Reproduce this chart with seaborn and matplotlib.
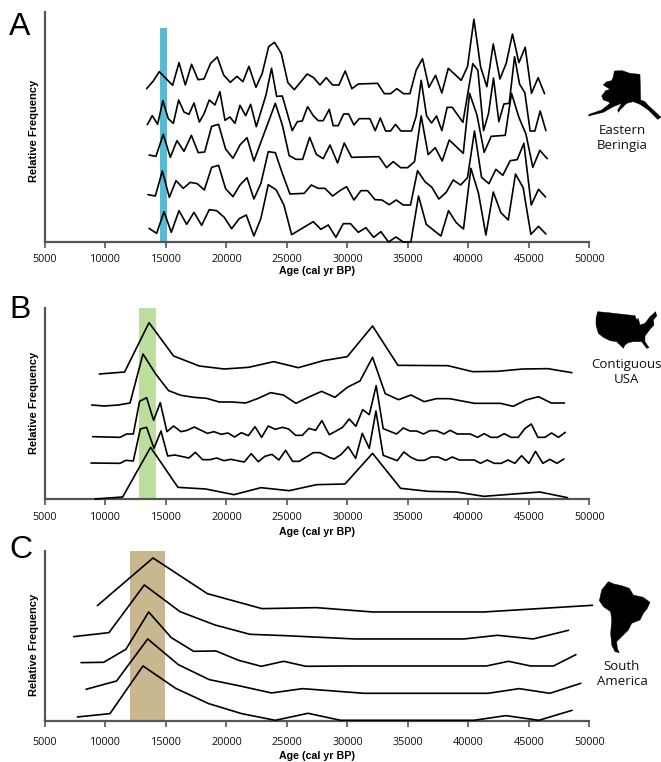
import numpy as np
import pandas as pd
import matplotlib
matplotlib.use('Agg')
import matplotlib.pyplot as plt
import seaborn as sns

# Eastern Beringia
a1_age = [13400,13950,14450,15550,16080,16600,17120,17650,18140,18690,19240,19770,20320,20870,21360,21860,22440,22960,23490,23980,24530,25080,25610,26680,27210,27730,28250,28780,29300,29820,30370,30900,32500,33050,33570,34090,34640,35170,35690,36210,36740,37290,37810,38340,39410,39930,40460,41010,41530,42060,42610,43130,43650,44180,44700,45220,45770,46300]
a1_freq = [460,483,511,470,538,471,533,487,489,536,555,501,479,497,481,527,464,506,586,599,566,478,457,504,493,471,493,471,471,513,460,474,476,445,445,460,445,445,516,550,464,500,447,521,485,526,668,526,466,594,489,536,624,538,584,446,493,445]
a2_age = [13460,13870,14310,14750,15190,15610,16050,16490,16900,17320,17760,18140,18580,19050,19460,19880,20290,20700,21120,21590,22000,22470,23270,23730,24150,24620,25440,25860,26270,26710,27180,27590,28000,28500,28830,29240,29690,30100,30540,30980,31860,32300,32720,33160,33570,33980,34420,35300,35690,36100,36550,36960,37370,37810,38250,38670,39550,39960,40370,40790,41260,41670,42080,42520,42940,43380,43820,44230,44670,45110,45500,45940,46410]
a2_freq = [352,379,353,424,370,356,426,390,383,417,360,384,426,411,451,365,375,356,410,379,413,346,441,521,437,438,334,361,363,406,379,364,364,398,349,349,384,384,351,370,370,334,372,333,333,353,333,333,378,485,378,357,378,334,404,404,359,447,535,515,334,386,492,361,414,416,556,474,448,333,333,393,334]
a3_age = [13600,14170,14780,15360,15910,16490,17100,17670,18200,18780,19350,19930,20540,21120,21700,22270,24040,24620,25190,25750,26300,26880,27430,28000,28560,29190,29740,30350,32610,33240,33790,34400,34980,35550,36100,36680,37260,37840,38420,39580,40100,40710,41310,41890,43050,43570,44180,44760,45330,45910,46520]
a3_freq = [261,257,323,254,304,272,320,268,270,347,353,279,251,291,313,243,416,351,259,248,248,314,263,250,291,237,297,254,256,223,241,223,223,241,378,262,283,243,306,266,446,381,269,317,320,446,374,324,224,275,250]
a4_age = [13510,14120,14700,15280,15830,16430,17010,17590,18170,18780,19350,19930,20540,21120,21700,22270,22850,23460,24040,24620,25250,26430,27010,27590,28140,28780,29380,29930,30540,31120,31670,32280,32850,33460,34040,34620,35220,35800,36410,36990,37560,38170,38750,39360,39930,40510,41090,41700,42280,42850,43460,44040,44590,45200,45800,46380]
a4_freq = [142,138,213,134,184,161,179,175,156,224,230,160,136,171,193,129,176,271,268,206,144,146,171,161,161,138,154,166,126,154,154,127,126,112,126,111,111,214,181,164,129,149,186,171,193,333,194,175,218,200,244,247,296,111,158,135]
a5_age = [13600,14230,14840,15440,16080,16710,17320,17950,18580,19190,19820,20430,21060,21640,22270,22850,23460,24120,24750,25390,27180,27810,28420,29050,29660,30260,30900,31530,32170,32770,33400,34010,34620,35250,35880,36520,37730,38360,39000,39600,40210,40840,41450,42060,42690,43300,43900,44530,45170,45800,46410]
a5_freq = [41,26,91,29,94,53,89,50,97,94,74,40,70,81,18,71,172,156,111,22,61,38,51,14,55,55,29,43,14,31,0,15,0,0,138,53,18,94,58,39,221,146,21,150,88,66,204,163,23,47,24]

# Contiguous USA
b1_age = [9490,11580,13600,15630,17760,19820,21830,23900,25940,28000,29990,32080,34180,38310,40350,42410,44480,46570,48560]
b1_freq = [375,381,529,429,399,390,395,412,394,415,427,519,401,400,382,383,390,391,379]
b2_age = [8860,9900,11060,12030,13100,14170,15220,16240,17320,18360,19410,20480,21590,22630,23650,24700,25750,26820,27870,28970,29990,31040,32080,33130,34230,35250,36350,37370,38450,40510,42660,43710,44760,45800,46850,47950]
b2_freq = [282,279,282,288,435,374,325,311,305,302,291,291,288,302,319,312,287,306,323,305,335,354,425,316,298,312,292,301,301,287,287,278,297,307,288,288]
b3_age = [8940,11200,11750,12300,12820,13400,13980,14530,15080,15630,16240,16760,17340,18420,18970,19570,20130,20680,21230,21810,22360,22910,23460,24040,24620,25140,25720,26270,26820,27370,27890,28500,28970,29600,30150,30700,31260,31810,32380,32960,34070,34620,35170,35720,36300,36820,37370,37980,38500,39080,40150,40760,41310,41860,42410,42960,43540,44120,44670,45200,45750,46330,46880,47460,48010]
b3_freq = [187,185,195,195,293,304,236,289,202,219,202,206,216,197,202,194,198,186,199,190,217,185,219,209,215,210,191,191,212,206,235,193,202,215,240,218,268,253,340,211,195,213,204,204,195,205,205,195,206,195,195,185,196,185,185,196,185,185,211,225,185,185,198,185,200]
b4_age = [8800,11200,11690,12300,12880,13400,14010,14590,15140,15740,16900,17430,18030,18640,19190,19800,20350,21470,22050,22630,23180,23760,24340,24890,25470,26020,27180,27730,28560,28910,29490,30070,30680,31230,31810,32360,32960,34120,34670,35250,35800,36380,36930,37510,38120,38670,39250,40490,41010,41560,42140,42720,43270,43850,44400,45000,45550,46160,46740,47320,47900]
b4_freq = [108,107,116,114,210,215,152,204,129,132,123,140,118,118,123,115,119,111,136,112,128,134,117,146,113,113,139,139,124,120,134,157,122,197,152,264,131,115,141,125,116,116,126,126,116,126,117,117,107,117,107,107,117,107,130,107,143,107,119,107,120]
b5_age = [9130,11420,13730,15990,18280,20620,22850,25190,27450,29800,32080,34400,36680,39020,41280,45910,48200]
b5_freq = [0,6,155,35,30,13,34,25,43,45,137,32,23,21,8,21,4]

# South America
c1_age = [9330,10840,13930,18420,22940,27450,32080,41280,50260]
c1_freq = [347,394,490,383,338,341,328,328,348]
c2_age = [7370,10290,13210,16160,19050,21940,24840,30620,39630,42410,45360,48280]
c2_freq = [254,266,409,329,289,261,257,247,247,258,247,273]
c3_age = [7980,9850,11690,13570,15440,17290,19130,21010,22880,24730,26570,30260,41500,43320,45140,47040,48890]
c3_freq = [176,177,216,328,251,210,211,183,165,180,165,166,166,180,166,166,200]
c4_age = [8390,10920,13490,16020,18580,21120,23730,26300,31370,41640,44200,46740,49300]
c4_freq = [96,121,247,170,125,106,85,98,84,84,98,84,114]
c5_age = [7670,10370,13100,15800,18530,21260,24040,26740,29440,40460,43100,45830,48580]
c5_freq = [13,23,166,99,53,23,3,24,3,3,17,3,33]

panel_letters = ['A', 'B', 'C']
xlabels = ['Age (cal yr BP)', 'Age (cal yr BP)', 'Age (cal yr BP)']
xticks = list(range(5000, 50001, 5000))
bands = [(14480, 15060), (12770, 14170), (12000, 14950)]
band_colors = ['#52bdd4', '#bcdf9d', '#c8b78f']
region_names = ['Eastern\nBeringia', 'Contiguous\nUSA', 'South\nAmerica']

# map silhouettes, outline
alaska = [(88,33),(112,32),(135,40),(165,43),(167,120),(180,125),(190,137),(205,150),(228,172),(218,178),(205,165),(190,150),(165,133),(145,125),(125,130),(105,150),(100,157),(98,150),(110,130),(85,140),(55,157),(10,168),(12,163),(50,150),(75,130),(70,125),(55,120),(50,108),(62,92),(75,88),(55,75),(65,65),(80,62),(85,50)]
usa = [(38,35),(70,38),(105,42),(150,47),(155,60),(160,55),(165,75),(180,70),(195,50),(212,35),(215,48),(205,60),(207,75),(195,88),(180,108),(180,125),(192,143),(185,145),(170,125),(145,125),(130,128),(120,135),(115,145),(105,135),(95,125),(75,122),(55,112),(40,100),(33,75),(33,55)]
south_america = [(55,35),(72,42),(95,47),(118,55),(130,75),(160,82),(180,97),(172,115),(160,130),(150,150),(125,160),(115,180),(95,200),(80,215),(82,235),(88,248),(75,245),(65,225),(62,190),(65,150),(62,125),(40,110),(28,92),(35,60)]

sns.set_style('ticks')
plt.rcParams['font.family'] = ['Open Sans', 'DejaVu Sans']

W, H = 661, 762
fig = plt.figure(figsize=(W / 100, H / 100), dpi=100)

# px positions: baseline, top of y axis, top of the colour band (in freq units)
boxes = [(242, 12, 641), (499, 308, 573), (721.3, 551, 514)]
tick_pads = [4.2, 4.9, 7.0]
all_series = [
    [(a1_age, a1_freq), (a2_age, a2_freq), (a3_age, a3_freq), (a4_age, a4_freq), (a5_age, a5_freq)],
    [(b1_age, b1_freq), (b2_age, b2_freq), (b3_age, b3_freq), (b4_age, b4_freq), (b5_age, b5_freq)],
    [(c1_age, c1_freq), (c2_age, c2_freq), (c3_age, c3_freq), (c4_age, c4_freq), (c5_age, c5_freq)],
]
grey = '#555555'
left, right = 45, 589.3

for i, series in enumerate(all_series):
    base, top, band_top = boxes[i]
    ax = fig.add_axes([left / W, 1 - base / H, (right - left) / W, (base - top) / H])
    ax.patch.set_alpha(0)
    ymax = (base - top) * 3
    ax.axvspan(bands[i][0], bands[i][1], ymin=0, ymax=band_top / ymax, color=band_colors[i], lw=0, zorder=1)
    for age, freq in series:
        df = pd.DataFrame({'age': age, 'freq': freq})
        sns.lineplot(data=df, x='age', y='freq', ax=ax, color='black', lw=1.2,
                     estimator=None, sort=False, clip_on=False, zorder=3)
    ax.set_xlim(5000, 50000)
    ax.set_ylim(0, ymax)
    ax.set_xticks(xticks)
    ax.set_yticks([])
    ax.tick_params(axis='x', length=4.5, width=1.2, color=grey, labelsize=7.8,
                   pad=tick_pads[i], labelcolor='#111111')
    sns.despine(ax=ax)
    for s in ['left', 'bottom']:
        ax.spines[s].set_linewidth(1.6)
        ax.spines[s].set_color(grey)
    ax.set_xlabel('')
    ax.set_ylabel('')

# everything placed by pixel goes on one overlay
over = fig.add_axes([0, 0, 1, 1])
over.set_xlim(0, W)
over.set_ylim(H, 0)
over.axis('off')
over.patch.set_alpha(0)

xlabel_y = [271, 532, 756]
ylabel_y = [131, 403, 645]
letter_y = [27, 310, 550]
for i in range(3):
    over.text(317, xlabel_y[i], xlabels[i], ha='center', va='center', fontsize=7.7,
              fontweight='bold', family='Liberation Sans', color='black')
    over.text(34, ylabel_y[i], 'Relative Frequency', ha='center', va='center', rotation=90,
              fontsize=8, fontweight='bold', family='Liberation Sans', color='black')
    over.text(9, letter_y[i], panel_letters[i], ha='left', va='center', fontsize=23,
              family='Liberation Sans', color='black')

name_x = [622, 626, 622]
name_y = [138, 372, 674]
for i in range(3):
    over.text(name_x[i], name_y[i], region_names[i], ha='center', va='center', fontsize=9.5,
              linespacing=1.15, color='#111111')

offsets = [(585, 60), (585, 300), (590, 570)]
for shape, (ox, oy) in zip([alaska, usa, south_america], offsets):
    pts = np.array(shape) / 3 + np.array([ox, oy])
    over.fill(pts[:, 0], pts[:, 1], color='black', lw=0.3)

fig.savefig('out.png', dpi=100)
